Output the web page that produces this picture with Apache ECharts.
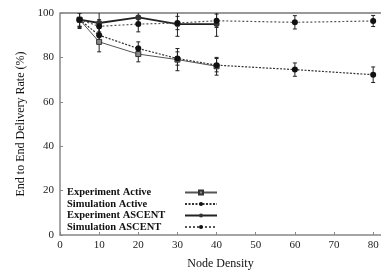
<!DOCTYPE html>
<html>
<head>
<meta charset="utf-8" />
<title>End to End Delivery Rate</title>
<script src="https://cdn.jsdelivr.net/npm/echarts@6/dist/echarts.min.js"></script>
<style>
  html, body { margin: 0; padding: 0; background: #fff; }
  #chart { width: 381px; height: 271px; }
</style>
</head>
<body>
<div id="chart"></div>
<script>
// node density values
var densityAll = [5, 10, 20, 30, 40, 60, 80];
var densityExp = [5, 10, 20, 30, 40];

// delivery rate (%)
var expActive = [97, 87, 81.5, 79, 76];
var simActive = [97, 90, 84, 79.5, 76.5, 74.5, 72.2];
var expAscent = [97, 95.5, 98, 95, 95];
var simAscent = [97, 94, 95, 95.5, 96.5, 95.8, 96.4];

// error bar half widths
var expActiveErr = [3.5, 4.5, 3.5, 5, 4];
var simActiveErr = [3, 3, 3, 3, 3, 3, 3.5];
var expAscentErr = [4, 5, 3, 5.5, 5.5];
var simAscentErr = [3, 3, 3.5, 3, 3, 3, 2.5];

var seriesNames = ['Experiment Active', 'Simulation Active', 'Experiment ASCENT', 'Simulation ASCENT'];
var yTicks = [0, 20, 40, 60, 80, 100];

function pairs(xs, ys) {
    return xs.map(function (x, i) { return [x, ys[i]]; });
}
function triples(xs, ys, es) {
    return xs.map(function (x, i) { return [x, ys[i], es[i]]; });
}

function errorBar(params, api) {
    var x = api.value(0), y = api.value(1), e = api.value(2);
    var hi = api.coord([x, y + e]);
    var lo = api.coord([x, y - e]);
    var st = { stroke: '#222', lineWidth: 1 };
    return {
        type: 'group',
        children: [
            { type: 'line', shape: { x1: hi[0], y1: hi[1], x2: lo[0], y2: lo[1] }, style: st },
            { type: 'line', shape: { x1: hi[0] - 2, y1: hi[1], x2: hi[0] + 2, y2: hi[1] }, style: st },
            { type: 'line', shape: { x1: lo[0] - 2, y1: lo[1], x2: lo[0] + 2, y2: lo[1] }, style: st }
        ]
    };
}

var font = 'Liberation Serif';
var chart = echarts.init(document.getElementById('chart'));

chart.setOption({
    animation: false,
    grid: { left: 60, right: 0, top: 13, bottom: 36, outerBoundsMode: 'none' },
    legend: {
        data: seriesNames,
        orient: 'vertical',
        left: 67,
        top: 187,
        padding: 0,
        align: 'right',
        itemWidth: 32,
        itemHeight: 5,
        itemGap: 0.5,
        formatter: function (name) { return '{t|' + name + '}'; },
        textStyle: {
            fontFamily: font, fontSize: 10.5, color: '#000', lineHeight: 11,
            rich: { t: { width: 113, align: 'left', fontFamily: font, fontSize: 10.5, fontWeight: 'bold', color: '#111', lineHeight: 11 } }
        }
    },
    xAxis: {
        type: 'value',
        min: 0,
        max: 82,
        interval: 10,
        name: 'Node Density',
        nameLocation: 'middle',
        nameGap: 23,
        nameTextStyle: { fontFamily: font, fontSize: 12, color: '#111' },
        axisLine: { lineStyle: { color: '#888', width: 1.5 } },
        axisTick: { inside: true, length: 3, lineStyle: { color: '#888' } },
        axisLabel: { fontFamily: font, fontSize: 11, color: '#222', margin: 5, showMaxLabel: false },
        splitLine: { show: false }
    },
    yAxis: {
        type: 'value',
        min: 0,
        max: 100,
        interval: 20,
        name: 'End to End Delivery Rate (%)',
        nameLocation: 'middle',
        nameGap: 33,
        nameTextStyle: { fontFamily: font, fontSize: 12, color: '#111' },
        axisLine: { show: true, lineStyle: { color: '#888', width: 1.5 } },
        axisTick: { show: true, inside: true, length: 3, lineStyle: { color: '#888' } },
        axisLabel: {
            fontFamily: font, fontSize: 11, color: '#222', margin: 6,
            formatter: function (v) { return yTicks.indexOf(v) >= 0 ? String(v) : ''; }
        },
        splitLine: { show: false }
    },
    // top border of the plot box
    graphic: [{
        type: 'line',
        shape: { x1: 60, y1: 13, x2: 381, y2: 13 },
        style: { stroke: '#999', lineWidth: 2 }
    }],
    series: [
        {
            name: seriesNames[0], type: 'line', data: pairs(densityExp, expActive),
            symbol: 'rect', symbolSize: 5,
            itemStyle: { color: '#888', borderColor: '#333', borderWidth: 1 },
            lineStyle: { color: '#555', width: 1 }
        },
        {
            name: seriesNames[1], type: 'line', data: pairs(densityAll, simActive),
            symbol: 'circle', symbolSize: 6,
            itemStyle: { color: '#111' },
            lineStyle: { color: '#333', width: 1.2, type: [2, 1.5] }
        },
        {
            name: seriesNames[2], type: 'line', data: pairs(densityExp, expAscent),
            symbol: 'circle', symbolSize: 6,
            itemStyle: { color: '#333' },
            lineStyle: { color: '#222', width: 1.8 }
        },
        {
            name: seriesNames[3], type: 'line', data: pairs(densityAll, simAscent),
            symbol: 'circle', symbolSize: 6,
            itemStyle: { color: '#111' },
            lineStyle: { color: '#555', width: 1.2, type: [2, 2] }
        },
        { name: 'e1', type: 'custom', renderItem: errorBar, clip: true, data: triples(densityExp, expActive, expActiveErr), z: 1 },
        { name: 'e2', type: 'custom', renderItem: errorBar, clip: true, data: triples(densityAll, simActive, simActiveErr), z: 1 },
        { name: 'e3', type: 'custom', renderItem: errorBar, clip: true, data: triples(densityExp, expAscent, expAscentErr), z: 1 },
        { name: 'e4', type: 'custom', renderItem: errorBar, clip: true, data: triples(densityAll, simAscent, simAscentErr), z: 1 }
    ]
});
</script>
</body>
</html>
